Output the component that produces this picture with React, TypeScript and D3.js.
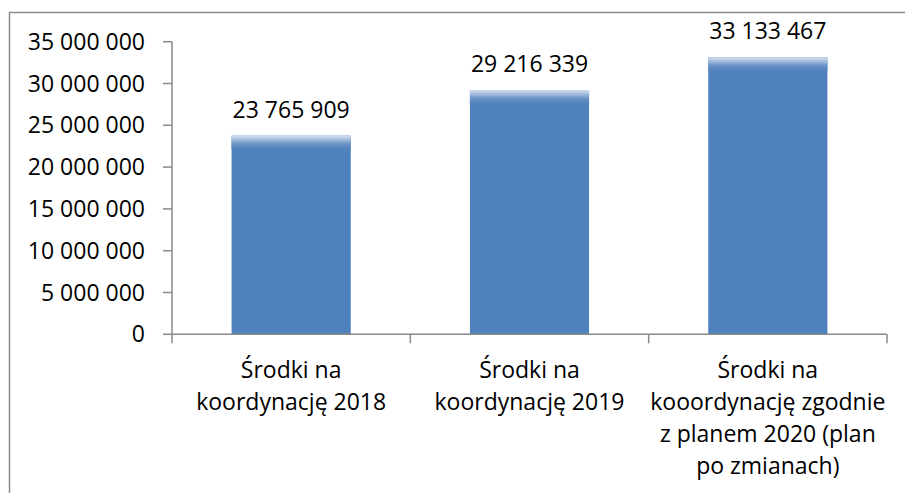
import React from "react";
import * as d3 from "d3";

const categories: string[][] = [
  ["Środki na", "koordynację 2018"],
  ["Środki na", "koordynację 2019"],
  ["Środki na", "kooordynację zgodnie", "z planem 2020 (plan", "po zmianach)"],
];
const values: number[] = [23765909, 29216339, 33133467];
const yTicks: number[] = [0, 5000000, 10000000, 15000000, 20000000, 25000000, 30000000, 35000000];

const W = 905;
const H = 493;
const FONT = "'Open Sans', sans-serif";
const AXIS = "#898989";

const fmt = (v: number) => d3.format(",")(v).replace(/,/g, " ");

export default function App() {
  const keys = categories.map((_, i) => String(i));
  const x = d3.scaleBand<string>().domain(keys).range([172, 887]).paddingInner(0.5).paddingOuter(0.25);
  const y = d3.scaleLinear().domain([0, 35000000]).range([334.3, 41.7]);
  const step = x.step();
  const x0 = 172;
  const boundaries = d3.range(categories.length + 1).map((i) => x0 + i * step);

  return (
    <svg width={W} height={H} style={{ position: "absolute", left: 0, top: 0, background: "#fff" }}>
      <defs>
        <linearGradient id="barTop" x1="0" y1="0" x2="0" y2="1">
          <stop offset="0" stopColor="#d3dfef" />
          <stop offset="0.25" stopColor="#a9c0e0" />
          <stop offset="0.6" stopColor="#6a92c6" />
          <stop offset="1" stopColor="#4f81bd" />
        </linearGradient>
      </defs>
      <rect x={9.5} y={12.5} width={W + 20} height={H + 20} fill="#fff" stroke="#8c8c8c" strokeWidth={1.5} />

      {/* y axis */}
      <line x1={172} x2={172} y1={y(35000000)} y2={y(0)} stroke={AXIS} strokeWidth={1.5} />
      {yTicks.map((t) => (
        <g key={t}>
          <line x1={163} x2={172} y1={y(t)} y2={y(t)} stroke={AXIS} strokeWidth={1.5} />
          <text x={145} y={y(t) + 8} textAnchor="end" fontFamily={FONT} fontSize={23} fill="#000">
            {fmt(t)}
          </text>
        </g>
      ))}

      {/* bars */}
      {values.map((v, i) => {
        const bx = x(String(i))!;
        const bw = x.bandwidth();
        const top = y(v);
        const h = y(0) - top;
        return (
          <g key={i}>
            <rect x={bx} y={top} width={bw} height={h} fill="#4f81bd" />
            <rect x={bx} y={top} width={bw} height={Math.min(14, h)} fill="url(#barTop)" />
            <text
              x={bx + bw / 2}
              y={top - 18}
              textAnchor="middle"
              fontFamily={FONT}
              fontSize={23}
              fill="#000"
            >
              {fmt(v)}
            </text>
          </g>
        );
      })}

      {/* x axis */}
      <line x1={172} x2={887} y1={y(0)} y2={y(0)} stroke={AXIS} strokeWidth={1.5} />
      {boundaries.map((bx, i) => (
        <line key={i} x1={bx} x2={bx} y1={y(0)} y2={y(0) + 9} stroke={AXIS} strokeWidth={1.5} />
      ))}
      {categories.map((lines, i) => {
        const cx = x(String(i))! + x.bandwidth() / 2;
        return (
          <text key={i} textAnchor="middle" fontFamily={FONT} fontSize={23} fill="#000">
            {lines.map((ln, j) => (
              <tspan key={j} x={cx} y={378 + j * 32}>
                {ln}
              </tspan>
            ))}
          </text>
        );
      })}
    </svg>
  );
}
